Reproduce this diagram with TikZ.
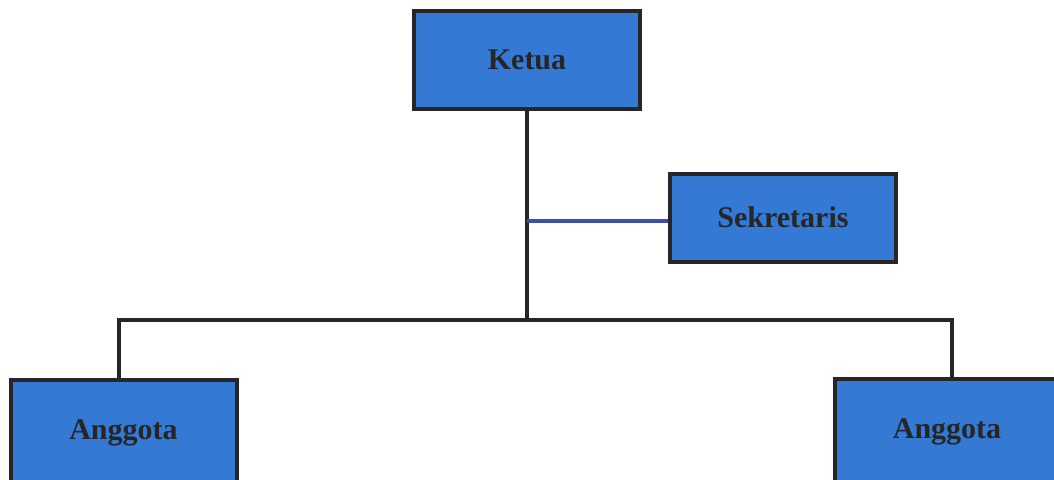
\documentclass[tikz,border=0pt]{standalone}
\usepackage{fontspec}
\setmainfont{Liberation Serif}
\definecolor{boxblue}{RGB}{52,122,212}
\definecolor{edge}{RGB}{38,38,40}
\definecolor{blueline}{RGB}{60,80,170}
\begin{document}
\begin{tikzpicture}[x=1pt,y=-1pt,
  orgbox/.style={draw=edge,line width=4pt,fill=boxblue,rectangle,inner sep=0pt,
    font=\fontsize{30}{34}\selectfont\bfseries,text=black!85},
  conn/.style={draw=edge,line width=4pt,line cap=rect}]
\useasboundingbox (0,0) rectangle (1054,479);
\clip (0,0) rectangle (1054,479);
\fill[white] (0,0) rectangle (1054,479);
\node[orgbox,minimum width=226pt,minimum height=98pt] (ketua) at (527,60) {Ketua};
\node[orgbox,minimum width=226pt,minimum height=88pt] (sek) at (783,217.5) {Sekretaris};
\node[orgbox,minimum width=226pt,minimum height=106pt] (a1) at (123.5,433) {Anggota};
\node[orgbox,minimum width=224pt,minimum height=106pt] (a2) at (947,432) {Anggota};
\coordinate (j) at (ketua.south |- 0,320);
\coordinate (s) at (ketua.south |- 0,221);
\coordinate (l) at (119,320);
\coordinate (r) at (952,320);
\draw[conn,line cap=butt] (ketua.south) -- (j);
\draw[draw=blueline,line width=4pt] (s) -- (sek.west |- s);
\draw[conn,line join=miter,line cap=butt] (a1.north -| l) -- (l) -- (r) -- (a2.north -| r);
\end{tikzpicture}
\end{document}
